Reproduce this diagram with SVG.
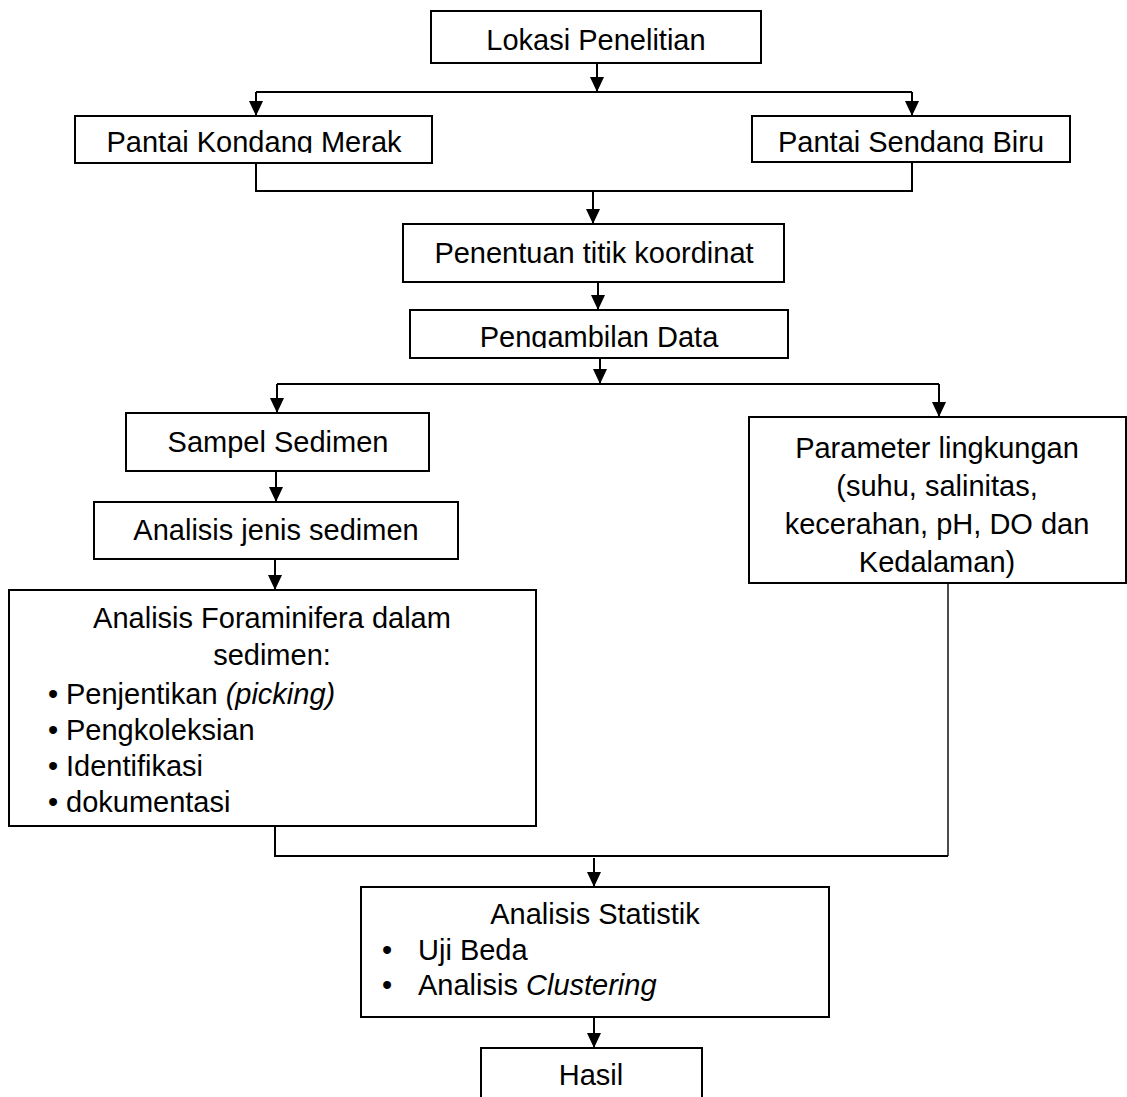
<svg xmlns="http://www.w3.org/2000/svg" width="1127" height="1097" viewBox="0 0 1127 1097">
<style>
.box{fill:#fff;stroke:#000;stroke-width:2}
.t{font-family:"Liberation Sans",Arial,sans-serif;font-size:29px;fill:#000}
.c{text-anchor:middle}
.con{fill:none;stroke:#000;stroke-width:2}
.thin{stroke-width:1.4}
</style>
<defs>
<marker id="ah" viewBox="0 0 15 14" refX="15" refY="7" markerWidth="15" markerHeight="14" markerUnits="userSpaceOnUse" orient="auto">
<path d="M0,0 L15,7 L0,14 z" fill="#000"/>
</marker>
<clipPath id="clipPKM"><rect x="75" y="116" width="357" height="37"/></clipPath>
<clipPath id="clipPSB"><rect x="752" y="116" width="318" height="37"/></clipPath>
<clipPath id="clipPD"><rect x="410" y="310" width="378" height="38"/></clipPath>
</defs>
<rect width="1127" height="1097" fill="#fff"/>

<g id="connectors">
<path class="con" d="M597,63 V92" marker-end="url(#ah)"/>
<path class="con" d="M256,92 H912"/>
<path class="con" d="M256,92 V116" marker-end="url(#ah)"/>
<path class="con" d="M912,92 V116" marker-end="url(#ah)"/>
<path class="con" d="M256,163 V191 H912 V162"/>
<path class="con" d="M593,191 V224" marker-end="url(#ah)"/>
<path class="con" d="M598,282 V310" marker-end="url(#ah)"/>
<path class="con" d="M600,358 V384" marker-end="url(#ah)"/>
<path class="con" d="M277,384 H939"/>
<path class="con" d="M277,384 V413" marker-end="url(#ah)"/>
<path class="con" d="M939,384 V417" marker-end="url(#ah)"/>
<path class="con" d="M276,471 V502" marker-end="url(#ah)"/>
<path class="con" d="M275,559 V590" marker-end="url(#ah)"/>
<path class="con" d="M275,826 V856 H948"/>
<path class="con thin" d="M948,856 V577"/>
<path class="con" d="M594,858 V887" marker-end="url(#ah)"/>
<path class="con" d="M594,1017 V1048" marker-end="url(#ah)"/>
</g>

<g id="lokasi">
<rect class="box" x="431" y="11" width="330" height="52"/>
<text class="t c" x="596" y="50">Lokasi Penelitian</text>
</g>

<g id="pantai-kondang">
<rect class="box" x="75" y="116" width="357" height="47"/>
<text class="t c" x="254" y="152" clip-path="url(#clipPKM)">Pantai Kondang Merak</text>
</g>

<g id="pantai-sendang">
<rect class="box" x="752" y="116" width="318" height="46"/>
<text class="t c" x="911" y="152" clip-path="url(#clipPSB)">Pantai Sendang Biru</text>
</g>

<g id="penentuan">
<rect class="box" x="403" y="224" width="381" height="58"/>
<text class="t c" x="594" y="263">Penentuan titik koordinat</text>
</g>

<g id="pengambilan">
<rect class="box" x="410" y="310" width="378" height="48"/>
<text class="t c" x="599" y="347" clip-path="url(#clipPD)">Pengambilan Data</text>
</g>

<g id="sampel">
<rect class="box" x="126" y="413" width="303" height="58"/>
<text class="t c" x="278" y="452">Sampel Sedimen</text>
</g>

<g id="analisis-jenis">
<rect class="box" x="94" y="502" width="364" height="57"/>
<text class="t c" x="276" y="540">Analisis jenis sedimen</text>
</g>

<g id="foraminifera">
<rect class="box" x="9" y="590" width="527" height="236"/>
<text class="t c" x="272" y="628">Analisis Foraminifera dalam</text>
<text class="t c" x="272" y="665">sedimen:</text>
<text class="t c" x="53" y="704">•</text>
<text class="t" x="66" y="704">Penjentikan <tspan font-style="italic">(picking)</tspan></text>
<text class="t c" x="53" y="740">•</text>
<text class="t" x="66" y="740">Pengkoleksian</text>
<text class="t c" x="53" y="776">•</text>
<text class="t" x="66" y="776">Identifikasi</text>
<text class="t c" x="53" y="812">•</text>
<text class="t" x="66" y="812">dokumentasi</text>
</g>

<g id="parameter">
<rect class="box" x="749" y="417" width="377" height="166"/>
<text class="t c" x="937" y="458">Parameter lingkungan</text>
<text class="t c" x="937" y="496">(suhu, salinitas,</text>
<text class="t c" x="937" y="534">kecerahan, pH, DO dan</text>
<text class="t c" x="937" y="572">Kedalaman)</text>
</g>

<g id="statistik">
<rect class="box" x="361" y="887" width="468" height="130"/>
<text class="t c" x="595" y="924">Analisis Statistik</text>
<text class="t c" x="387" y="960">•</text>
<text class="t" x="418" y="960">Uji Beda</text>
<text class="t c" x="387" y="995">•</text>
<text class="t" x="418" y="995">Analisis <tspan font-style="italic">Clustering</tspan></text>
</g>

<g id="hasil">
<rect class="box" x="481" y="1048" width="221" height="60"/>
<text class="t c" x="591" y="1085">Hasil</text>
</g>
</svg>
